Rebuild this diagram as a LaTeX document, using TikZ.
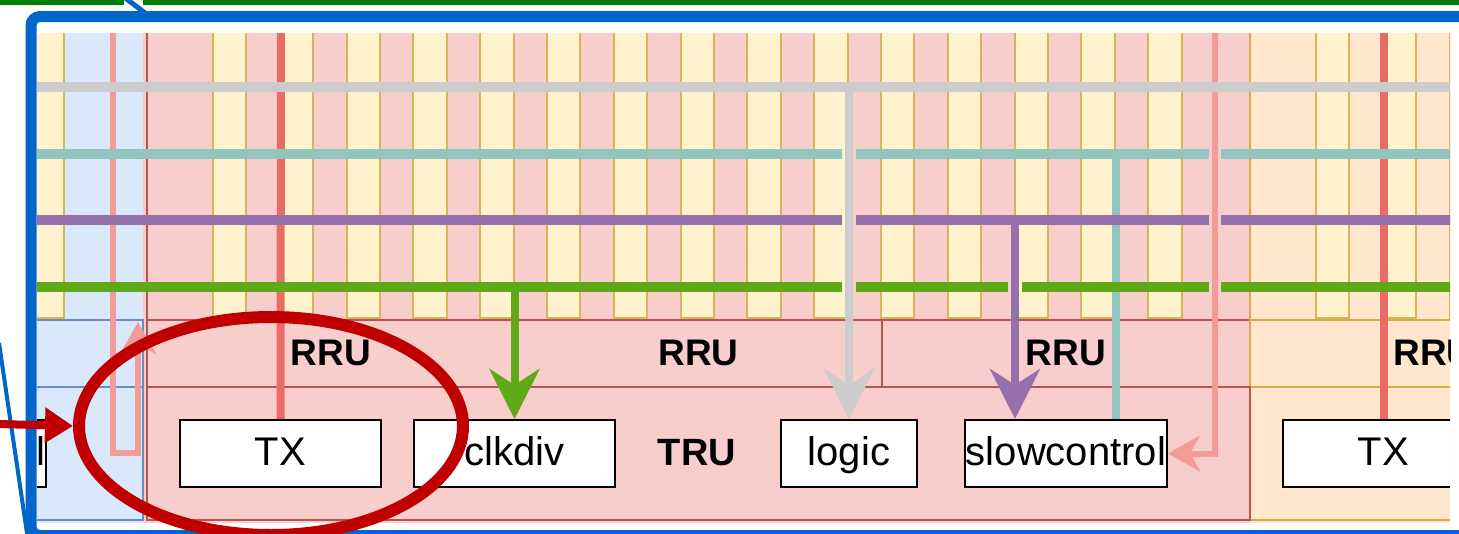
\documentclass[tikz,border=0pt]{standalone}
\usepackage{fontspec}
\setmainfont{Liberation Sans}
\usetikzlibrary{arrows.meta,shapes.geometric}
\definecolor{pinkF}{HTML}{F8CECC}
\definecolor{pinkS}{HTML}{B85450}
\definecolor{yelF}{HTML}{FFF2CC}
\definecolor{yelS}{HTML}{D6B656}
\definecolor{bluF}{HTML}{DAE8FC}
\definecolor{bluS}{HTML}{6C8EBF}
\definecolor{pchF}{HTML}{FFE6CC}
\definecolor{pchS}{HTML}{D9AA45}
\definecolor{txred}{HTML}{EA6B66}
\definecolor{lred}{HTML}{F19C99}
\definecolor{busgray}{HTML}{CCCCCC}
\definecolor{busteal}{HTML}{93C5C0}
\definecolor{buspurp}{HTML}{9570AD}
\definecolor{busgreen}{HTML}{5FA918}
\definecolor{hilite}{HTML}{C00000}
\definecolor{frameblue}{HTML}{0066CC}
\definecolor{topgreen}{HTML}{008000}
\begin{document}
\begin{tikzpicture}[x=1pt,y=-1pt,
  box/.style={draw=black,line width=2pt,fill=white,inner sep=0pt,minimum height=67pt,
    text height=30pt,text depth=7pt,font=\fontsize{40}{48}\selectfont},
  lbl/.style={font=\bfseries\fontsize{37}{44}\selectfont,anchor=base,inner sep=0pt},
  bus/.style={line width=10pt},
  col/.style={fill=yelF,draw=yelS,line width=2pt},
  bigtip/.style={-{Stealth[length=50pt,width=50pt,inset=16pt]}},
  pinktip/.style={-{Stealth[length=32pt,width=36pt,inset=10pt]}},
  border/.style={line width=2pt}
]
\useasboundingbox (0,0) rectangle (1459,533);
\fill[white] (0,0) rectangle (1459,533);

\begin{scope}
\clip (37,33) rectangle (1450,522);
% block backgrounds
\fill[bluF] (0,25) rectangle (147,530);
\fill[pinkF] (143,25) rectangle (1250,530);
\fill[pchF] (1250,25) rectangle (1500,530);
% columns
\draw[col] (0,25) rectangle (64,318);
\foreach \k in {0,2,...,28} \draw[col] ({213+33.4*\k},25) rectangle ({246.4+33.4*\k},318);
\foreach \k in {0,2,4} \draw[col] ({1316+33.4*\k},25) rectangle ({1349.4+33.4*\k},318);
% block borders
\draw[bluS,border] (0,320) rectangle (143,387) (0,387) rectangle (143,520);
\draw[pinkS,border] (147,25) -- (147,320);
\draw[pinkS,border] (147,320) rectangle (515,387) (515,320) rectangle (882,387) (882,320) rectangle (1250,387);
\draw[pchS,border] (1250,25) -- (1250,320);
\draw[pchS,border] (1250,320) rectangle (1617,387) (1250,387) rectangle (2353,520);
\draw[pinkS,border] (147,387) rectangle (1250,520);

% boxes
\node[box,minimum width=201pt] (tx1) at (280.5,453.5) {TX};
\node[box,minimum width=201pt] (clk) at (514.5,453.5) {clkdiv};
\node[box,minimum width=136pt] (logic) at (849,453.5) {logic};
\node[box,minimum width=202pt] (slow) at (1066,453.5) {slowcontrol};
\node[box,minimum width=201pt] (tx2) at (1383.5,453.5) {TX};
\node[box,text width=40pt,inner xsep=1pt,align=right,anchor=east] (lbox) at (47,453.5) {l};

% labels
\node[lbl] (rru1) at (331,365) {RRU};
\node[lbl] (rru2) at (698.5,365) {RRU};
\node[lbl] (rru3) at (1066,365) {RRU};
\node[lbl] (rru4) at (1433.5,365) {RRU};
\node[lbl,font=\bfseries\fontsize{38}{45}\selectfont] (tru) at (697,465) {TRU};

% coordinates
\coordinate (r1) at (281,25);
\coordinate (r2) at (1383.5,25);
\coordinate (p1) at (113,25);
\coordinate (p1c) at (138,453);
\coordinate (p1b) at (138,322);
\coordinate (p2) at (1215,25);
\coordinate (te) at (1116,154);
\coordinate (gy) at (849,87);
\coordinate (pu) at (1015,220);
\coordinate (gr) at (514.5,287);

% lines under the buses
\draw[txred,line width=8pt] (r1) -- (tx1.north);
\draw[txred,line width=8pt] (r2) -- (tx2.north);
\draw[lred,line width=6pt,pinktip] (p1) |- (p1c) -- (p1b);
\draw[lred,line width=6pt,pinktip] (p2) |- (slow.east);
\draw[busteal,line width=8pt] (te) -- (te |- slow.north);

% buses
\draw[bus,busgray] (30,87) -- (1460,87);
\draw[bus,busteal] (30,154) -- (842,154) (856,154) -- (1209,154) (1221,154) -- (1460,154);
\draw[bus,buspurp] (30,220) -- (842,220) (856,220) -- (1209,220) (1221,220) -- (1460,220);
\draw[bus,busgreen] (30,287) -- (842,287) (856,287) -- (1008,287) (1022,287) -- (1209,287) (1221,287) -- (1460,287);

% branch arrows over the buses
\draw[busgray,line width=8pt,bigtip] (gy) -- (logic.north);
\draw[buspurp,line width=8pt,bigtip] (pu) -- (pu |- slow.north);
\draw[busgreen,line width=8pt,bigtip] (gr) -- (clk.north);
\end{scope}

% outer frame and lines
\draw[topgreen,line width=5pt] (0,2.5) -- (124,2.5) (143,2.5) -- (1459,2.5);
\draw[frameblue,line width=5pt] (124,-3) -- (145,13);
\draw[frameblue,line width=11pt,rounded corners=9pt] (31,16.5) rectangle (1520,535.5);
\draw[frameblue,line width=4pt] (-1,343) -- (28,540);

% highlight
\node[draw=hilite,line width=12pt,ellipse,inner sep=0pt,minimum width=384pt,minimum height=218pt] (circ) at (271,426) {};
\coordinate (ra) at (-2,424);
\draw[hilite,line width=8pt,-{Triangle[length=28pt,width=34pt]}] (ra) -- (circ.west);
\end{tikzpicture}
\end{document}
